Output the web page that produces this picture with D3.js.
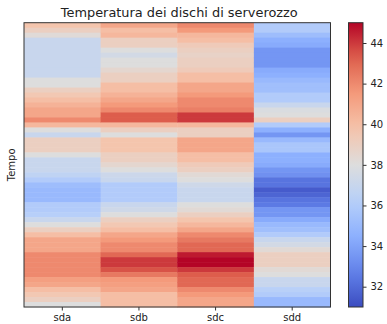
<!DOCTYPE html>
<html>
<head>
<meta charset="utf-8">
<script src="https://cdn.jsdelivr.net/npm/d3@7"></script>
<style>
  body { margin: 0; background: #fff; }
  svg { display: block; font-family: "DejaVu Sans", sans-serif; }
</style>
</head>
<body>
<svg id="chart" width="387" height="324"></svg>
<script>
// disks (columns) and temperatures over time (rows, top to bottom)
const disks = ['sda', 'sdb', 'sdc', 'sdd'];
const sda = [39.7, 39, 38.2, 37, 37, 37, 37, 37, 37, 37, 37, 38, 38, 39, 39.5, 40, 40.5, 41, 41, 42,
  40.3, 38, 37, 39, 39, 39, 38, 37, 37, 37, 36.6, 36, 35.2, 35, 35, 35, 36, 36, 36.2, 37,
  38, 39, 40, 41, 41, 41, 42, 42, 42, 42, 42, 41.3, 41, 40, 39.5, 39, 38];
const sdb = [41, 40, 40.3, 39, 39, 38, 37.5, 38, 38, 38.5, 39, 39, 40, 40, 40.5, 41, 41.5, 42, 43.3, 43.3,
  40.3, 39, 38, 39.7, 39.7, 39.7, 39, 39, 38.5, 38, 37.2, 37, 36, 36, 36, 36, 37, 37.3, 38, 39,
  39.5, 40, 41, 41.5, 42, 42, 43, 44, 44, 43.5, 42.5, 41.5, 41.3, 41, 40, 40, 40];
const sdc = [42, 41.5, 40.3, 40, 39.3, 39, 38.8, 39, 39, 39.3, 40, 40, 41, 41, 41.5, 42, 42, 42.3, 44, 44,
  40.3, 39, 39, 41, 41, 41, 40, 40, 39.3, 39, 38.3, 38, 37.3, 37, 37, 37, 38, 38.3, 39, 39.7,
  40.3, 41, 42, 42.5, 43, 43, 44.6, 45, 45, 44, 43.3, 43, 43, 42, 41.5, 41, 41];
const sdd = [36, 36, 35.2, 34.5, 34.3, 33.5, 33.5, 33.5, 33.5, 34.3, 34.5, 35, 35.3, 35.3, 36, 36, 37, 37.8, 38, 39,
  36, 34.5, 33.5, 35, 35.7, 35.7, 34.5, 34.5, 34.3, 33.5, 33.3, 32.3, 32.3, 31.5, 31.8, 32.3, 32.5, 33.5, 33.5, 34.3,
  35, 35.3, 36, 37, 37.5, 38.3, 39, 39, 39, 38.3, 38, 37, 37, 36.3, 36, 35, 35];
const cbTicks = [32, 34, 36, 38, 40, 42, 44];
const vmin = 31, vmax = 45;

const series = [sda, sdb, sdc, sdd];
const nRows = sda.length;

const svg = d3.select('#chart');
const plotL = 24, plotR = 330.5, plotT = 22.7, plotB = 307;

// matplotlib-like "coolwarm" colormap
const coolwarm = ['#3b4cc0', '#6282ea', '#8db0fe', '#b8d0f9', '#dddddd', '#f5c4ac', '#f49a7b', '#de604d', '#b40426'];
const color = d3.scaleLinear()
  .domain(coolwarm.map((c, i) => vmin + (vmax - vmin) * i / (coolwarm.length - 1)))
  .range(coolwarm)
  .interpolate(d3.interpolateRgb)
  .clamp(true);

const x = d3.scaleBand().domain(disks).range([plotL, plotR]).padding(0);
const y = d3.scaleBand().domain(d3.range(nRows)).range([plotT, plotB]).padding(0);

// cells
const cells = [];
series.forEach((vals, c) => vals.forEach((v, r) => cells.push({ disk: disks[c], row: r, value: v })));

svg.append('g')
  .selectAll('rect')
  .data(cells)
  .enter().append('rect')
  .attr('x', d => x(d.disk))
  .attr('y', d => y(d.row))
  .attr('width', x.bandwidth() + 0.5)
  .attr('height', y.bandwidth() + 0.5)
  .attr('fill', d => color(d.value));

// frame
svg.append('rect')
  .attr('x', plotL).attr('y', plotT)
  .attr('width', plotR - plotL).attr('height', plotB - plotT)
  .attr('fill', 'none').attr('stroke', '#333').attr('stroke-width', 1);

// x axis
const xAxis = svg.append('g')
  .attr('transform', `translate(0,${plotB})`)
  .call(d3.axisBottom(x).tickSize(3.5).tickPadding(3.5));
xAxis.select('.domain').remove();
xAxis.selectAll('line').attr('stroke', '#333');
xAxis.selectAll('text').attr('font-size', 10).attr('fill', '#222').attr('font-family', 'DejaVu Sans');

// y label
svg.append('text')
  .attr('transform', `translate(15,${(plotT + plotB) / 2}) rotate(-90)`)
  .attr('text-anchor', 'middle')
  .attr('font-size', 10)
  .attr('fill', '#222')
  .text('Tempo');

// title
svg.append('text')
  .attr('x', (plotL + plotR) / 2 + 2)
  .attr('y', 16.5)
  .attr('text-anchor', 'middle')
  .attr('font-size', 12.9)
  .attr('fill', '#222')
  .text('Temperatura dei dischi di serverozzo');

// colorbar
const cbLeft = 348.5, cbRight = 363;
const cbScale = d3.scaleLinear().domain([vmin, vmax]).range([plotB, plotT]);
const grad = svg.append('defs').append('linearGradient')
  .attr('id', 'cbgrad')
  .attr('x1', 0).attr('y1', 1).attr('x2', 0).attr('y2', 0);
d3.range(0, 1.0001, 0.05).forEach(t => {
  grad.append('stop').attr('offset', t).attr('stop-color', color(vmin + t * (vmax - vmin)));
});
svg.append('rect')
  .attr('x', cbLeft).attr('y', plotT)
  .attr('width', cbRight - cbLeft).attr('height', plotB - plotT)
  .attr('fill', 'url(#cbgrad)')
  .attr('stroke', '#333').attr('stroke-width', 1);

const cbAxis = svg.append('g')
  .attr('transform', `translate(${cbRight},0)`)
  .call(d3.axisRight(cbScale).tickValues(cbTicks).tickSize(3.5).tickPadding(4));
cbAxis.select('.domain').remove();
cbAxis.selectAll('line').attr('stroke', '#333');
cbAxis.selectAll('text').attr('font-size', 10).attr('fill', '#222').attr('font-family', 'DejaVu Sans');
</script>
</body>
</html>
